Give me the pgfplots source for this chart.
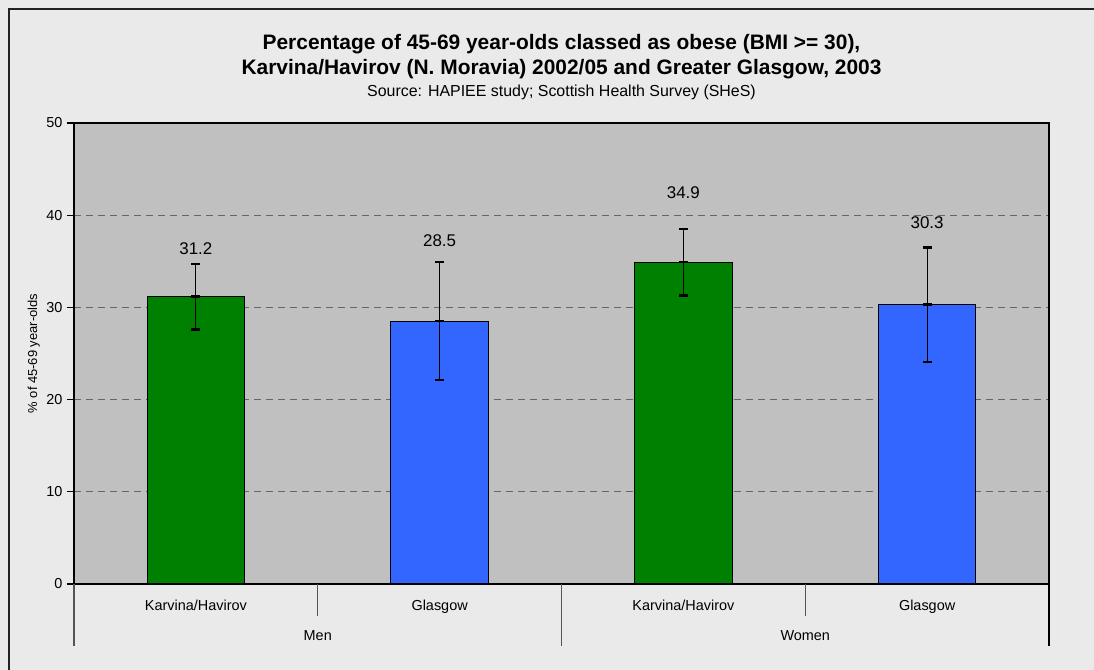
\documentclass[border=0pt]{standalone}
\usepackage{pgfplots}
\pgfplotsset{compat=1.18}
\usepackage{fontspec}
\setmainfont{Liberation Sans}
\definecolor{pagebg}{HTML}{EAEAEA}
\definecolor{plotbg}{HTML}{C0C0C0}
\definecolor{barGreen}{HTML}{008000}
\definecolor{barBlue}{HTML}{3366FF}
\definecolor{gridc}{HTML}{666666}
\definecolor{sepc}{HTML}{555555}
\definecolor{framec}{HTML}{222222}
\begin{document}
\begin{tikzpicture}[x=1bp,y=1bp]
\fill[pagebg] (-74,-86) rectangle (1020,584);
\path[use as bounding box] (-74,-86) rectangle (1020,584);
\draw[framec, line width=1.5bp] (-65,-100) -- (-65,575) -- (1030,575);
\begin{axis}[
  at={(0,0)}, anchor=south west,
  scale only axis, width=975bp, height=461bp,
  xmin=-0.5, xmax=3.5, ymin=0, ymax=50,
  clip=false,
  axis background/.style={fill=plotbg},
  axis line style={black, line width=1.1bp},
  xtick=\empty,
  ytick={0,10,20,30,40,50},
  ymajorgrids,
  major grid style={gridc, line width=1.1bp, dash pattern=on 7bp off 5bp},
  tick style={black, line width=1.1bp},
  major tick length=7bp,
  tick align=outside,
  ytick pos=left,
  /pgf/number format/assume math mode=true,
  yticklabel style={font=\fontsize{14.5}{14.5}\selectfont, xshift=-1bp},
]
\addplot[ybar, bar width=0.4, bar shift=0pt, fill=barGreen, draw=black, line width=1.1bp,
  error bars/.cd, y dir=both, y explicit,
  error bar style={black, line width=1.1bp},
  error mark options={rotate=90, black, line width=2.5bp, mark size=4.5bp}]
  coordinates {(0,31.2) += (0,3.5) -= (0,3.6) (2,34.9) += (0,3.6) -= (0,3.6)};
\addplot[ybar, bar width=0.4, bar shift=0pt, fill=barBlue, draw=black, line width=1.1bp,
  error bars/.cd, y dir=both, y explicit,
  error bar style={black, line width=1.1bp},
  error mark options={rotate=90, black, line width=2.5bp, mark size=4.5bp}]
  coordinates {(1,28.5) += (0,6.4) -= (0,6.4) (3,30.3) += (0,6.2) -= (0,6.2)};
\addplot[only marks, mark=-, mark size=4.5bp, mark options={black, line width=2.5bp}]
  coordinates {(0,31.2) (1,28.5) (2,34.9) (3,30.3)};
% value labels
\node[font=\fontsize{17}{17}\selectfont] at (axis cs:0,36.4) {31.2};
\node[font=\fontsize{17}{17}\selectfont] at (axis cs:1,37.2) {28.5};
\node[font=\fontsize{17}{17}\selectfont] at (axis cs:2,42.4) {34.9};
\node[font=\fontsize{17}{17}\selectfont] at (axis cs:3,39.2) {30.3};
% category separators
\draw[sepc, line width=1.1bp] (axis cs:0.5,0) -- ++(0bp,-32bp);
\draw[sepc, line width=1.1bp] (axis cs:2.5,0) -- ++(0bp,-32bp);
\draw[sepc, line width=1.1bp] (axis cs:-0.5,0) -- ++(0bp,-62bp);
\draw[sepc, line width=1.1bp] (axis cs:1.5,0) -- ++(0bp,-62bp);
\draw[black, line width=1.1bp] (axis cs:3.5,0) -- ++(0bp,-62bp);
% category labels
\node[font=\fontsize{14.5}{15}\selectfont, anchor=base, yshift=-27bp] at (axis cs:0,0) {Karvina/Havirov};
\node[font=\fontsize{14.5}{15}\selectfont, anchor=base, yshift=-27bp] at (axis cs:1,0) {Glasgow};
\node[font=\fontsize{14.5}{15}\selectfont, anchor=base, yshift=-27bp] at (axis cs:2,0) {Karvina/Havirov};
\node[font=\fontsize{14.5}{15}\selectfont, anchor=base, yshift=-27bp] at (axis cs:3,0) {Glasgow};
\node[font=\fontsize{14.5}{15}\selectfont, anchor=base, yshift=-57bp] at (axis cs:0.5,0) {Men};
\node[font=\fontsize{14.5}{15}\selectfont, anchor=base, yshift=-57bp] at (axis cs:2.5,0) {Women};
% y label
\node[rotate=90, font=\fontsize{13}{13}\selectfont] at (axis cs:-0.665,25) {\% of 45-69 year-olds};
\end{axis}
\node[anchor=base, font=\bfseries\fontsize{21}{21}\selectfont] at (487.5,534) {Percentage of 45-69 year-olds classed as obese (BMI >= 30),};
\node[anchor=base, font=\bfseries\fontsize{21}{21}\selectfont] at (487.5,509) {Karvina/Havirov (N. Moravia) 2002/05 and Greater Glasgow, 2003};
\node[anchor=base, font=\fontsize{16}{16}\selectfont] at (487.5,487) {Source: HAPIEE study; Scottish Health Survey (SHeS)};
\end{tikzpicture}
\end{document}
